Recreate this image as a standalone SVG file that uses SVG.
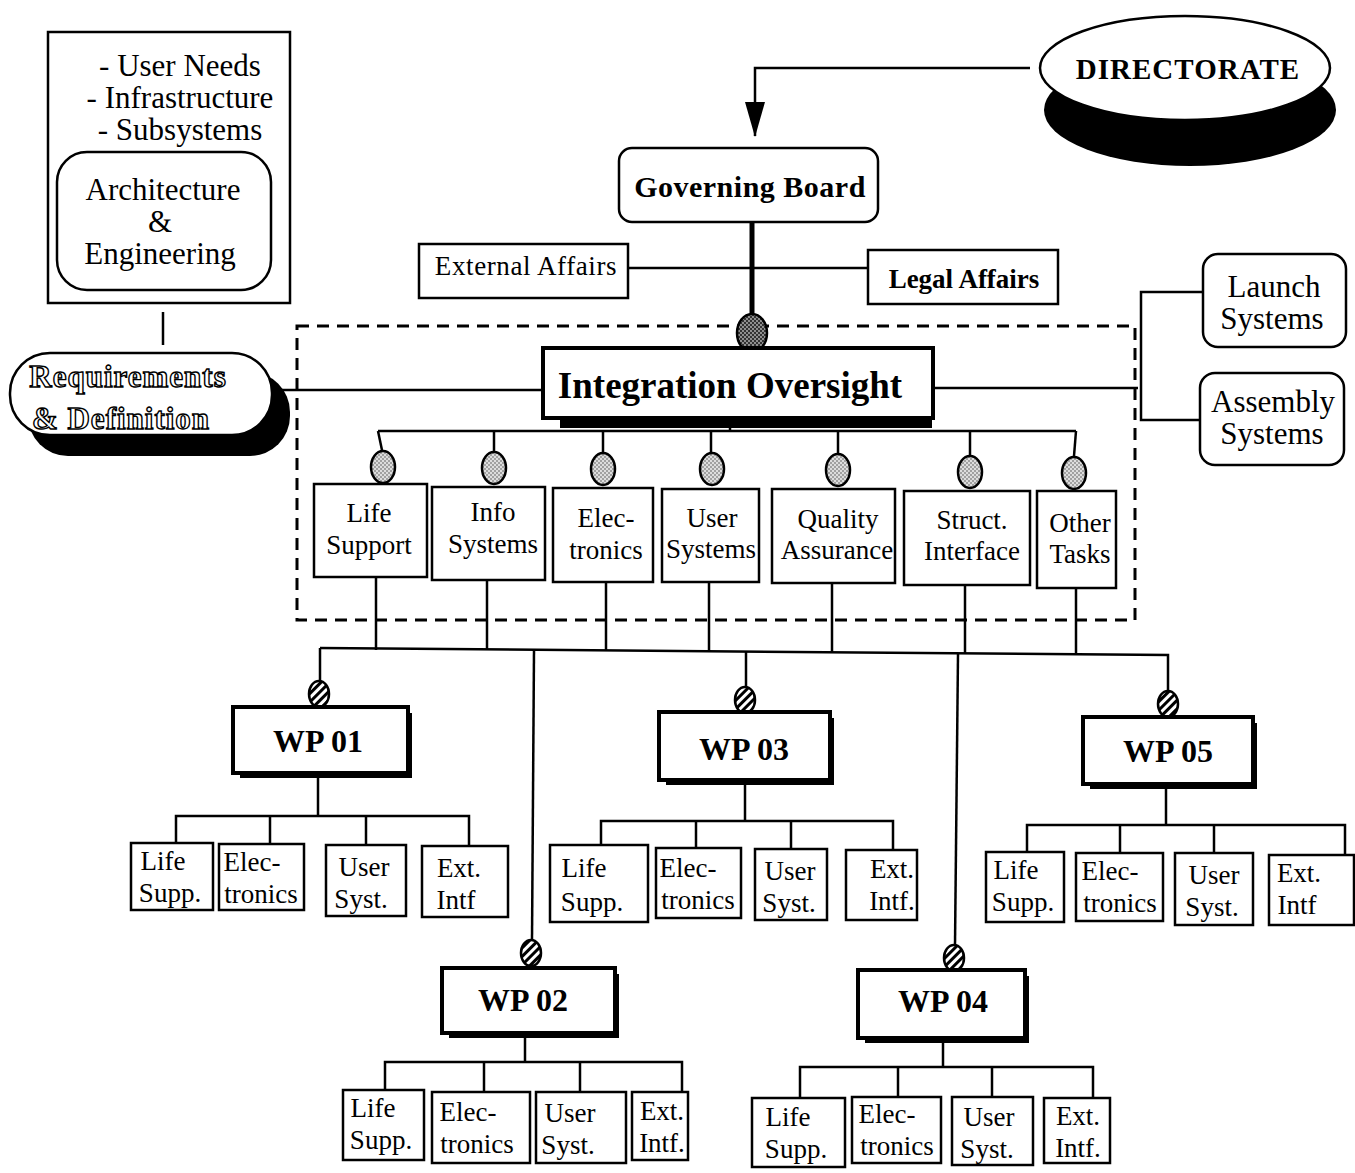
<svg xmlns="http://www.w3.org/2000/svg" width="1355" height="1173" viewBox="0 0 1355 1173">
<style>
.b{fill:#fff;stroke:#000;stroke-width:2.5}
.bt{fill:#fff;stroke:#000;stroke-width:4}
.l{fill:none;stroke:#000;stroke-width:2.5}
.t{font-family:"Liberation Serif","Times New Roman",serif;font-size:27px;fill:#000;text-anchor:middle}
.s{font-family:"Liberation Serif","Times New Roman",serif;font-size:27px;fill:#000;text-anchor:middle}
.big{font-size:31px}
.wp{font-family:"Liberation Serif","Times New Roman",serif;font-size:32px;font-weight:bold;fill:#000;text-anchor:middle}
.hol{font-family:"Liberation Serif","Times New Roman",serif;font-size:31px;font-weight:bold;fill:#fff;stroke:#000;stroke-width:1.4;text-anchor:middle;letter-spacing:1px}
.sh{fill:#000}
</style>
<defs>
<pattern id="dots" width="4" height="4" patternUnits="userSpaceOnUse"><rect width="4" height="4" fill="#ddd"/><circle cx="1" cy="1" r="0.8" fill="#555"/><circle cx="3" cy="3" r="0.8" fill="#555"/></pattern>
<pattern id="dark" width="4" height="4" patternUnits="userSpaceOnUse"><rect width="4" height="4" fill="#333"/><circle cx="1" cy="1" r="0.9" fill="#bbb"/><circle cx="3" cy="3" r="0.9" fill="#bbb"/></pattern>
<pattern id="hatch" width="6" height="6" patternUnits="userSpaceOnUse" patternTransform="rotate(45)"><rect width="6" height="6" fill="#fff"/><rect width="3" height="6" fill="#000"/></pattern>
<marker id="arr" markerWidth="36" markerHeight="20" refX="34" refY="10" orient="auto" markerUnits="userSpaceOnUse"><path d="M0,0 L35,10 L0,20 z" fill="#000"/></marker>
</defs>

<g id="connectors">
<line class="l" x1="163" y1="312" x2="163" y2="345"/>
<line class="l" x1="282" y1="390" x2="543" y2="390"/>
<polyline class="l" points="1030,68 755,68 755,136" stroke-width="3" marker-end="url(#arr)"/>
<line x1="752" y1="222" x2="752" y2="345" stroke="#000" stroke-width="5"/>
<line class="l" x1="628" y1="268" x2="868" y2="268"/>
<line class="l" x1="933" y1="388" x2="1138" y2="388"/>
<polyline class="l" points="1203,292 1141,292 1141,420 1200,420"/>
<line class="l" x1="730" y1="418" x2="730" y2="431"/>
<line class="l" x1="378" y1="431" x2="1076" y2="431"/>
<line class="l" x1="378" y1="431" x2="383" y2="455"/>
<line class="l" x1="494" y1="431" x2="494" y2="455"/>
<line class="l" x1="603" y1="431" x2="603" y2="455"/>
<line class="l" x1="711" y1="431" x2="711" y2="455"/>
<line class="l" x1="838" y1="431" x2="838" y2="455"/>
<line class="l" x1="970" y1="431" x2="970" y2="455"/>
<line class="l" x1="1076" y1="431" x2="1074" y2="456"/>
<line class="l" x1="376" y1="577" x2="376" y2="650"/>
<line class="l" x1="487" y1="580" x2="487" y2="650"/>
<line class="l" x1="606" y1="582" x2="606" y2="651"/>
<line class="l" x1="709" y1="582" x2="709" y2="652"/>
<line class="l" x1="832" y1="583" x2="832" y2="653"/>
<line class="l" x1="965" y1="585" x2="965" y2="653"/>
<line class="l" x1="1076" y1="588" x2="1076" y2="654"/>
<polyline class="l" points="320,648 1168,655 1168,692"/>
<line class="l" x1="320" y1="648" x2="320" y2="682"/>
<line class="l" x1="534" y1="650" x2="532" y2="940"/>
<line class="l" x1="746" y1="651" x2="746" y2="688"/>
<line class="l" x1="958" y1="654" x2="955" y2="945"/>
<line class="l" x1="318" y1="778" x2="318" y2="816"/>
<polyline class="l" points="176,845 176,816 469,816 469,846"/>
<line class="l" x1="270" y1="816" x2="270" y2="844"/>
<line class="l" x1="366" y1="816" x2="366" y2="845"/>
<line class="l" x1="745" y1="785" x2="745" y2="821"/>
<polyline class="l" points="601,845 601,821 893,821 893,850"/>
<line class="l" x1="696" y1="821" x2="696" y2="848"/>
<line class="l" x1="791" y1="821" x2="791" y2="849"/>
<line class="l" x1="1166" y1="789" x2="1166" y2="825"/>
<polyline class="l" points="1027,852 1027,825 1345,825 1345,855"/>
<line class="l" x1="1120" y1="825" x2="1120" y2="853"/>
<line class="l" x1="1214" y1="825" x2="1214" y2="853"/>
<line class="l" x1="525" y1="1038" x2="525" y2="1062"/>
<polyline class="l" points="385,1090 385,1062 682,1062 682,1092"/>
<line class="l" x1="484" y1="1062" x2="484" y2="1092"/>
<line class="l" x1="580" y1="1062" x2="580" y2="1092"/>
<line class="l" x1="943" y1="1043" x2="943" y2="1067"/>
<polyline class="l" points="800,1098 800,1067 1093,1067 1093,1098"/>
<line class="l" x1="898" y1="1067" x2="898" y2="1097"/>
<line class="l" x1="992" y1="1067" x2="992" y2="1097"/>
</g>

<g id="dashed-frame">
<rect x="297" y="326" width="838" height="294" fill="none" stroke="#000" stroke-width="3" stroke-dasharray="12,8"/>
</g>

<g id="context-box">
<rect class="b" x="48" y="32" width="242" height="271"/>
<text class="t big" x="180" y="76">- User Needs</text>
<text class="t big" x="180" y="108">- Infrastructure</text>
<text class="t big" x="180" y="140">- Subsystems</text>
</g>
<g id="arch-eng">
<rect class="b" x="57" y="152" width="214" height="138" rx="30"/>
<text class="t big" x="163" y="200">Architecture</text>
<text class="t big" x="160" y="232">&amp;</text>
<text class="t big" x="160" y="264">Engineering</text>
</g>

<g id="requirements">
<rect class="sh" x="28" y="372" width="262" height="84" rx="40"/>
<rect class="b" x="10" y="353" width="262" height="82" rx="40" stroke-width="3"/>
<text class="hol" x="128" y="387">Requirements</text>
<text class="hol" x="121" y="429">&amp; Definition</text>
</g>

<g id="directorate">
<ellipse class="sh" cx="1190" cy="110" rx="146" ry="56"/>
<ellipse class="b" cx="1185" cy="68" rx="145" ry="52" stroke-width="3"/>
<text x="1188" y="79" style="font-family:'Liberation Serif',serif;font-size:29px;font-weight:bold;fill:#000;text-anchor:middle;letter-spacing:1px">DIRECTORATE</text>
</g>

<g id="governing-board">
<rect class="b" x="619" y="148" width="259" height="74" rx="13" stroke-width="3"/>
<text x="750" y="197" style="font-family:'Liberation Serif',serif;font-size:30px;font-weight:bold;fill:#000;text-anchor:middle;letter-spacing:0.5px">Governing Board</text>
</g>

<g id="external-affairs">
<rect class="b" x="419" y="244" width="209" height="54"/>
<text class="s" x="526" y="275" style="letter-spacing:0.6px">External Affairs</text>
</g>

<g id="legal-affairs">
<rect class="b" x="868" y="250" width="190" height="54"/>
<text class="s" x="964" y="288" style="font-weight:bold">Legal Affairs</text>
</g>

<g id="io-connector-oval">
<ellipse cx="752" cy="333" rx="15" ry="19" fill="url(#dark)" stroke="#000" stroke-width="2.5"/>
</g>

<g id="integration-oversight">
<rect class="sh" x="560" y="412" width="372" height="16"/>
<rect class="bt" x="543" y="348" width="390" height="70"/>
<text x="730" y="398" style="font-family:'Liberation Serif',serif;font-size:37px;font-weight:bold;fill:#000;text-anchor:middle">Integration Oversight</text>
</g>

<g id="launch-systems">
<rect class="b" x="1203" y="254" width="143" height="93" rx="15"/>
<text class="t big" x="1274" y="297">Launch</text>
<text class="t big" x="1272" y="329">Systems</text>
</g>
<g id="assembly-systems">
<rect class="b" x="1200" y="373" width="144" height="92" rx="15"/>
<text class="t big" x="1273" y="412">Assembly</text>
<text class="t big" x="1272" y="444">Systems</text>
</g>

<g id="task-ovals">
<ellipse cx="383" cy="467" rx="12" ry="16" fill="url(#dots)" stroke="#000" stroke-width="2.5"/>
<ellipse cx="494" cy="468" rx="12" ry="16" fill="url(#dots)" stroke="#000" stroke-width="2.5"/>
<ellipse cx="603" cy="469" rx="12" ry="16" fill="url(#dots)" stroke="#000" stroke-width="2.5"/>
<ellipse cx="712" cy="469" rx="12" ry="16" fill="url(#dots)" stroke="#000" stroke-width="2.5"/>
<ellipse cx="838" cy="470" rx="12" ry="16" fill="url(#dots)" stroke="#000" stroke-width="2.5"/>
<ellipse cx="970" cy="472" rx="12" ry="16" fill="url(#dots)" stroke="#000" stroke-width="2.5"/>
<ellipse cx="1074" cy="473" rx="12" ry="16" fill="url(#dots)" stroke="#000" stroke-width="2.5"/>
</g>

<g id="life-support"><rect class="b" x="314" y="484" width="113" height="93"/><text class="t" x="369" y="522">Life</text><text class="t" x="369" y="554">Support</text></g>
<g id="info-systems"><rect class="b" x="432" y="487" width="113" height="93"/><text class="t" x="493" y="521">Info</text><text class="t" x="493" y="553">Systems</text></g>
<g id="electronics"><rect class="b" x="553" y="488" width="100" height="94"/><text class="t" x="606" y="527">Elec-</text><text class="t" x="606" y="559">tronics</text></g>
<g id="user-systems"><rect class="b" x="662" y="489" width="97" height="93"/><text class="t" x="712" y="527">User</text><text class="t" x="711" y="558">Systems</text></g>
<g id="quality-assurance"><rect class="b" x="772" y="489" width="123" height="94"/><text class="t" x="838" y="528">Quality</text><text class="t" x="837" y="559">Assurance</text></g>
<g id="struct-interface"><rect class="b" x="904" y="491" width="126" height="94"/><text class="t" x="972" y="529">Struct.</text><text class="t" x="972" y="560">Interface</text></g>
<g id="other-tasks"><rect class="b" x="1037" y="491" width="79" height="97"/><text class="t" x="1080" y="532">Other</text><text class="t" x="1080" y="563">Tasks</text></g>

<g id="wp-ovals">
<ellipse cx="319" cy="694" rx="10" ry="13" fill="url(#hatch)" stroke="#000" stroke-width="2.5"/>
<ellipse cx="745" cy="700" rx="10" ry="13" fill="url(#hatch)" stroke="#000" stroke-width="2.5"/>
<ellipse cx="1168" cy="704" rx="10" ry="13" fill="url(#hatch)" stroke="#000" stroke-width="2.5"/>
<ellipse cx="531" cy="953" rx="10" ry="13" fill="url(#hatch)" stroke="#000" stroke-width="2.5"/>
<ellipse cx="954" cy="958" rx="10" ry="13" fill="url(#hatch)" stroke="#000" stroke-width="2.5"/>
</g>

<g id="wp01">
<rect class="sh" x="240" y="713" width="172" height="65"/>
<rect class="bt" x="233" y="707" width="175" height="66" stroke-width="3.5"/>
<text class="wp" x="318" y="752">WP 01</text>
</g>
<g id="wp02">
<rect class="sh" x="449" y="974" width="170" height="64"/>
<rect class="bt" x="442" y="968" width="173" height="65" stroke-width="3.5"/>
<text class="wp" x="523" y="1011">WP 02</text>
</g>
<g id="wp03">
<rect class="sh" x="666" y="718" width="168" height="67"/>
<rect class="bt" x="659" y="712" width="171" height="68" stroke-width="3.5"/>
<text class="wp" x="744" y="760">WP 03</text>
</g>
<g id="wp04">
<rect class="sh" x="865" y="976" width="164" height="67"/>
<rect class="bt" x="858" y="970" width="167" height="68" stroke-width="3.5"/>
<text class="wp" x="943" y="1012">WP 04</text>
</g>
<g id="wp05">
<rect class="sh" x="1090" y="723" width="167" height="66"/>
<rect class="bt" x="1083" y="717" width="170" height="67" stroke-width="3.5"/>
<text class="wp" x="1168" y="762">WP 05</text>
</g>

<g id="wp01-life"><rect class="b" x="131" y="843" width="82" height="67" stroke-width="3"/><text class="t" x="163" y="870">Life</text><text class="t" x="170" y="902">Supp.</text></g>
<g id="wp01-elec"><rect class="b" x="219" y="844" width="85" height="66" stroke-width="3"/><text class="t" x="252" y="871">Elec-</text><text class="t" x="261" y="903">tronics</text></g>
<g id="wp01-user"><rect class="b" x="326" y="845" width="80" height="71" stroke-width="3"/><text class="t" x="364" y="876">User</text><text class="t" x="361" y="908">Syst.</text></g>
<g id="wp01-ext"><rect class="b" x="422" y="846" width="86" height="71" stroke-width="3"/><text class="t" x="459" y="877">Ext.</text><text class="t" x="456" y="909">Intf</text></g>

<g id="wp03-life"><rect class="b" x="550" y="845" width="98" height="77" stroke-width="3"/><text class="t" x="584" y="877">Life</text><text class="t" x="592" y="911">Supp.</text></g>
<g id="wp03-elec"><rect class="b" x="656" y="848" width="85" height="70" stroke-width="3"/><text class="t" x="688" y="877">Elec-</text><text class="t" x="698" y="909">tronics</text></g>
<g id="wp03-user"><rect class="b" x="755" y="849" width="72" height="71" stroke-width="3"/><text class="t" x="790" y="880">User</text><text class="t" x="789" y="912">Syst.</text></g>
<g id="wp03-ext"><rect class="b" x="846" y="850" width="71" height="70" stroke-width="3"/><text class="t" x="892" y="878">Ext.</text><text class="t" x="892" y="910">Intf.</text></g>

<g id="wp05-life"><rect class="b" x="986" y="852" width="78" height="70" stroke-width="3"/><text class="t" x="1016" y="879">Life</text><text class="t" x="1023" y="911">Supp.</text></g>
<g id="wp05-elec"><rect class="b" x="1076" y="853" width="87" height="68" stroke-width="3"/><text class="t" x="1110" y="880">Elec-</text><text class="t" x="1120" y="912">tronics</text></g>
<g id="wp05-user"><rect class="b" x="1175" y="853" width="78" height="72" stroke-width="3"/><text class="t" x="1214" y="884">User</text><text class="t" x="1212" y="916">Syst.</text></g>
<g id="wp05-ext"><rect class="b" x="1269" y="855" width="85" height="70" stroke-width="3"/><text class="t" x="1299" y="882">Ext.</text><text class="t" x="1297" y="914">Intf</text></g>

<g id="wp02-life"><rect class="b" x="343" y="1090" width="81" height="70" stroke-width="3"/><text class="t" x="373" y="1117">Life</text><text class="t" x="381" y="1149">Supp.</text></g>
<g id="wp02-elec"><rect class="b" x="432" y="1092" width="98" height="71" stroke-width="3"/><text class="t" x="468" y="1121">Elec-</text><text class="t" x="477" y="1153">tronics</text></g>
<g id="wp02-user"><rect class="b" x="536" y="1092" width="90" height="71" stroke-width="3"/><text class="t" x="570" y="1122">User</text><text class="t" x="568" y="1154">Syst.</text></g>
<g id="wp02-ext"><rect class="b" x="632" y="1092" width="56" height="68" stroke-width="3"/><text class="t" x="662" y="1120">Ext.</text><text class="t" x="662" y="1152">Intf.</text></g>

<g id="wp04-life"><rect class="b" x="752" y="1098" width="93" height="69" stroke-width="3"/><text class="t" x="788" y="1126">Life</text><text class="t" x="796" y="1158">Supp.</text></g>
<g id="wp04-elec"><rect class="b" x="852" y="1097" width="89" height="66" stroke-width="3"/><text class="t" x="887" y="1123">Elec-</text><text class="t" x="897" y="1155">tronics</text></g>
<g id="wp04-user"><rect class="b" x="952" y="1097" width="81" height="68" stroke-width="3"/><text class="t" x="989" y="1126">User</text><text class="t" x="987" y="1158">Syst.</text></g>
<g id="wp04-ext"><rect class="b" x="1044" y="1098" width="66" height="65" stroke-width="3"/><text class="t" x="1078" y="1125">Ext.</text><text class="t" x="1078" y="1157">Intf.</text></g>
</svg>
